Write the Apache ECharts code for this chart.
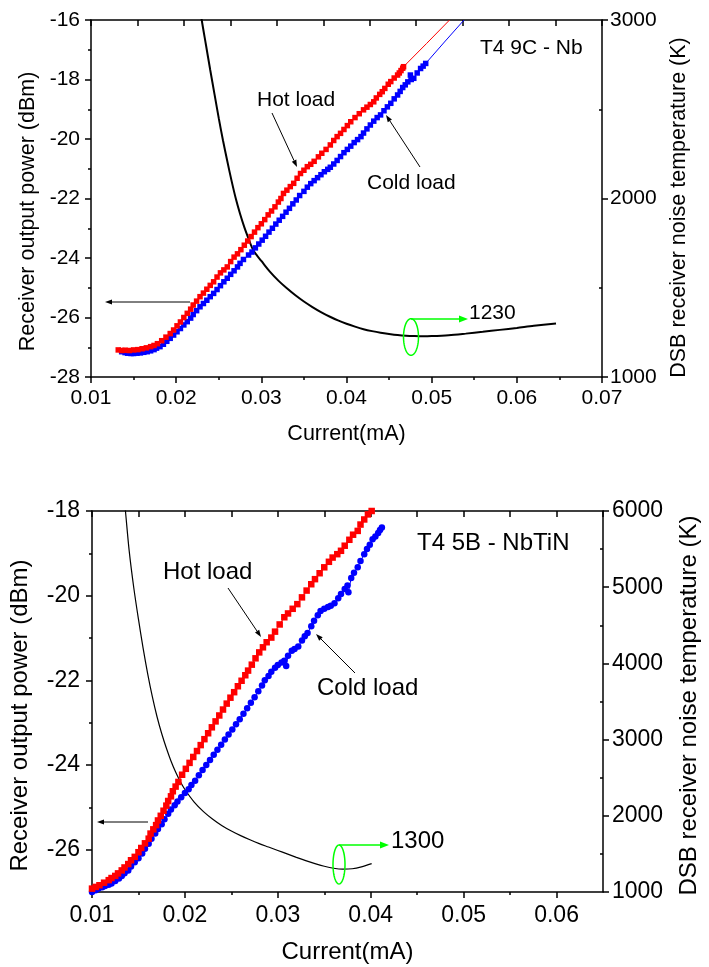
<!DOCTYPE html>
<html><head><meta charset="utf-8">
<script src="https://cdn.jsdelivr.net/npm/echarts@6/dist/echarts.min.js"></script>
<style>html,body{margin:0;padding:0;background:#fff}#c{width:709px;height:967px}</style>
</head><body><div id="c"></div>
<script>
// ---------------- DATA: top panel (T4 9C - Nb) ----------------
const topXMajor = [0.01, 0.02, 0.03, 0.04, 0.05, 0.06, 0.07];
const topXMinor = [0.015, 0.025, 0.035, 0.045, 0.055, 0.065];
const topPowerMajor = [-28, -26, -24, -22, -20, -18, -16];
const topPowerMinor = [-27, -25, -23, -21, -19, -17];
const topTempMajor = [1000, 2000, 3000];
const topTempMinor = [1500, 2500];

const hotTop = [
 [0.0132,-27.09],[0.0136,-27.11],[0.0140,-27.10],[0.0145,-27.11],[0.0150,-27.09],[0.0155,-27.08],[0.0160,-27.05],
 [0.0165,-27.02],[0.0170,-26.98],[0.0174,-26.94],[0.0178,-26.88],[0.0183,-26.78],[0.0188,-26.66],[0.0193,-26.54],
 [0.0197,-26.42],[0.0201,-26.28],[0.0205,-26.15],[0.0209,-26.00],[0.0213,-25.86],[0.0217,-25.72],[0.0220,-25.58],
 [0.0224,-25.45],[0.0228,-25.30],[0.0232,-25.18],[0.0236,-25.05],[0.0240,-24.92],[0.0244,-24.80],[0.0248,-24.64],
 [0.0252,-24.50],[0.0256,-24.40],[0.0260,-24.30],[0.0264,-24.12],[0.0268,-23.97],[0.0272,-23.86],[0.0276,-23.72],
 [0.0280,-23.57],[0.0284,-23.43],[0.0288,-23.28],[0.0292,-23.13],[0.0296,-22.98],[0.0300,-22.85],[0.0304,-22.71],
 [0.0308,-22.55],[0.0312,-22.42],[0.0316,-22.28],[0.0320,-22.12],[0.0323,-22.00],[0.0326,-21.83],[0.0330,-21.72],
 [0.0334,-21.60],[0.0338,-21.49],[0.0342,-21.32],[0.0346,-21.16],[0.0350,-21.05],[0.0354,-20.93],[0.0358,-20.85],
 [0.0362,-20.75],[0.0367,-20.60],[0.0371,-20.48],[0.0376,-20.35],[0.0381,-20.20],[0.0385,-20.05],[0.0389,-19.92],
 [0.0393,-19.81],[0.0397,-19.68],[0.0401,-19.55],[0.0405,-19.42],[0.0410,-19.28],[0.0415,-19.15],[0.0420,-19.02],
 [0.0424,-18.93],[0.0428,-18.84],[0.0432,-18.75],[0.0435,-18.62],[0.0439,-18.50],[0.0442,-18.41],[0.0445,-18.30],
 [0.0449,-18.16],[0.0452,-18.07],[0.0456,-17.95],[0.0460,-17.85],[0.0462,-17.78],[0.0464,-17.70],[0.0466,-17.62],
 [0.0467,-17.57]
];
const hotTopTail = [[0.0467,-17.57],[0.0494,-16.79],[0.0521,-16.00]];

const coldTop = [
 [0.0136,-27.15],[0.0140,-27.18],[0.0143,-27.20],[0.0147,-27.21],[0.0150,-27.21],[0.0154,-27.20],[0.0158,-27.19],
 [0.0162,-27.17],[0.0166,-27.15],[0.0170,-27.12],[0.0174,-27.08],[0.0177,-27.03],[0.0181,-26.98],[0.0185,-26.90],
 [0.0189,-26.80],[0.0193,-26.70],[0.0197,-26.59],[0.0201,-26.48],[0.0205,-26.37],[0.0209,-26.25],[0.0213,-26.14],
 [0.0217,-26.02],[0.0220,-25.90],[0.0224,-25.77],[0.0228,-25.64],[0.0232,-25.53],[0.0236,-25.42],[0.0240,-25.30],
 [0.0244,-25.19],[0.0248,-25.06],[0.0252,-24.93],[0.0256,-24.80],[0.0260,-24.68],[0.0264,-24.55],[0.0268,-24.43],
 [0.0272,-24.30],[0.0275,-24.18],[0.0279,-24.05],[0.0285,-23.90],[0.0289,-23.80],[0.0293,-23.66],[0.0297,-23.53],
 [0.0301,-23.40],[0.0305,-23.27],[0.0309,-23.13],[0.0313,-23.00],[0.0317,-22.86],[0.0321,-22.73],[0.0325,-22.60],
 [0.0329,-22.46],[0.0333,-22.33],[0.0337,-22.18],[0.0341,-22.05],[0.0345,-21.90],[0.0350,-21.76],[0.0354,-21.62],
 [0.0358,-21.50],[0.0362,-21.40],[0.0366,-21.30],[0.0370,-21.20],[0.0374,-21.10],[0.0378,-21.02],[0.0381,-20.95],
 [0.0385,-20.84],[0.0389,-20.72],[0.0393,-20.59],[0.0397,-20.46],[0.0401,-20.35],[0.0405,-20.24],[0.0409,-20.12],
 [0.0413,-20.02],[0.0417,-19.92],[0.0420,-19.80],[0.0424,-19.66],[0.0428,-19.53],[0.0432,-19.40],[0.0436,-19.28],
 [0.0440,-19.19],[0.0444,-19.05],[0.0448,-18.92],[0.0452,-18.80],[0.0456,-18.65],[0.0460,-18.52],[0.0463,-18.40],
 [0.0466,-18.27],[0.0469,-18.18],[0.0472,-18.08],[0.0475,-17.85],[0.0476,-18.00],[0.0479,-17.96],[0.0483,-17.78],
 [0.0487,-17.63],[0.0490,-17.55],[0.0493,-17.46]
];
const coldTopTail = [[0.0493,-17.46],[0.0515,-16.74],[0.0538,-16.00]];

const noiseTop = [
 [0.0228,3070],[0.0230,3000],[0.0235,2860],[0.0240,2720],[0.0245,2585],[0.0250,2450],[0.0255,2325],[0.0260,2210],
 [0.0265,2100],[0.0270,2000],[0.0275,1915],[0.0280,1840],[0.0285,1775],[0.0290,1715],[0.0295,1680],[0.0300,1650],
 [0.0310,1590],[0.0320,1540],[0.0330,1497],[0.0340,1458],[0.0350,1423],[0.0360,1392],[0.0370,1364],[0.0380,1339],
 [0.0390,1317],[0.0400,1298],[0.0410,1282],[0.0420,1268],[0.0430,1257],[0.0440,1248],[0.0450,1241],[0.0460,1235],
 [0.0470,1231],[0.0480,1229],[0.0490,1228],[0.0500,1229],[0.0520,1234],[0.0540,1243],[0.0560,1253],[0.0580,1264],
 [0.0600,1275],[0.0620,1287],[0.0646,1300]
];

// ---------------- DATA: bottom panel (T4 5B - NbTiN) ----------------
const botXMajor = [0.01, 0.02, 0.03, 0.04, 0.05, 0.06];
const botXMinor = [0.015, 0.025, 0.035, 0.045, 0.055];
const botPowerMajor = [-26, -24, -22, -20, -18];
const botPowerMinor = [-27, -25, -23, -21, -19];
const botTempMajor = [1000, 2000, 3000, 4000, 5000, 6000];
const botTempMinor = [1500, 2500, 3500, 4500, 5500];

const hotBot = [
 [0.0100,-26.92],[0.0104,-26.88],[0.0108,-26.84],[0.0113,-26.78],[0.0118,-26.72],[0.0121,-26.67],[0.0125,-26.62],
 [0.0128,-26.56],[0.0132,-26.49],[0.0135,-26.42],[0.0139,-26.34],[0.0142,-26.25],[0.0146,-26.17],[0.0150,-26.06],
 [0.0153,-25.96],[0.0157,-25.85],[0.0161,-25.74],[0.0163,-25.62],[0.0166,-25.52],[0.0169,-25.42],[0.0171,-25.31],
 [0.0174,-25.20],[0.0177,-25.08],[0.0180,-24.96],[0.0182,-24.85],[0.0185,-24.74],[0.0187,-24.62],[0.0190,-24.51],
 [0.0193,-24.40],[0.0197,-24.23],[0.0201,-24.09],[0.0205,-23.95],[0.0209,-23.81],[0.0213,-23.67],[0.0217,-23.53],
 [0.0221,-23.39],[0.0225,-23.25],[0.0229,-23.11],[0.0233,-22.97],[0.0237,-22.83],[0.0241,-22.69],[0.0245,-22.55],
 [0.0249,-22.41],[0.0253,-22.28],[0.0257,-22.14],[0.0261,-22.01],[0.0265,-21.88],[0.0268,-21.77],[0.0272,-21.63],
 [0.0276,-21.48],[0.0280,-21.34],[0.0284,-21.22],[0.0288,-21.10],[0.0293,-20.99],[0.0297,-20.85],[0.0302,-20.68],
 [0.0307,-20.51],[0.0311,-20.42],[0.0316,-20.31],[0.0321,-20.20],[0.0326,-20.04],[0.0331,-19.88],[0.0336,-19.73],
 [0.0340,-19.61],[0.0345,-19.47],[0.0350,-19.33],[0.0355,-19.20],[0.0359,-19.10],[0.0364,-19.02],[0.0368,-18.94],
 [0.0372,-18.82],[0.0377,-18.68],[0.0381,-18.56],[0.0386,-18.47],[0.0389,-18.32],[0.0393,-18.20],[0.0397,-18.08],
 [0.0401,-18.00]
];

const coldBot = [
 [0.0100,-27.00],[0.0104,-26.96],[0.0107,-26.92],[0.0111,-26.89],[0.0114,-26.86],[0.0118,-26.83],[0.0121,-26.80],
 [0.0125,-26.74],[0.0129,-26.68],[0.0132,-26.62],[0.0135,-26.56],[0.0139,-26.49],[0.0142,-26.40],[0.0146,-26.30],
 [0.0150,-26.20],[0.0154,-26.09],[0.0157,-25.98],[0.0161,-25.86],[0.0164,-25.74],[0.0168,-25.62],[0.0171,-25.51],
 [0.0175,-25.40],[0.0178,-25.28],[0.0182,-25.15],[0.0185,-25.05],[0.0189,-24.95],[0.0192,-24.86],[0.0196,-24.76],
 [0.0200,-24.66],[0.0204,-24.57],[0.0207,-24.47],[0.0211,-24.37],[0.0215,-24.24],[0.0219,-24.12],[0.0223,-24.00],
 [0.0227,-23.88],[0.0231,-23.76],[0.0235,-23.64],[0.0239,-23.52],[0.0243,-23.40],[0.0247,-23.28],[0.0251,-23.16],
 [0.0255,-23.04],[0.0259,-22.92],[0.0263,-22.79],[0.0267,-22.66],[0.0271,-22.53],[0.0275,-22.40],[0.0279,-22.26],
 [0.0283,-22.12],[0.0286,-22.00],[0.0290,-21.90],[0.0293,-21.80],[0.0297,-21.70],[0.0300,-21.64],[0.0304,-21.58],
 [0.0307,-21.54],[0.0309,-21.66],[0.0311,-21.42],[0.0315,-21.30],[0.0318,-21.26],[0.0322,-21.20],[0.0326,-21.06],
 [0.0329,-20.96],[0.0332,-20.88],[0.0336,-20.72],[0.0339,-20.59],[0.0343,-20.46],[0.0346,-20.36],[0.0350,-20.31],
 [0.0354,-20.27],[0.0357,-20.24],[0.0361,-20.18],[0.0365,-20.06],[0.0368,-19.96],[0.0372,-19.84],[0.0375,-19.76],
 [0.0376,-19.92],[0.0379,-19.58],[0.0382,-19.46],[0.0386,-19.33],[0.0389,-19.18],[0.0393,-19.02],[0.0396,-18.90],
 [0.0399,-18.80],[0.0402,-18.67],[0.0405,-18.60],[0.0408,-18.52],[0.0410,-18.45],[0.0412,-18.39]
];

const noiseBot = [
 [0.0134,6250],[0.0136,6000],[0.0140,5480],[0.0145,4990],[0.0150,4580],[0.0155,4200],[0.0160,3860],[0.0165,3560],
 [0.0170,3300],[0.0175,3080],[0.0180,2890],[0.0185,2720],[0.0190,2575],[0.0195,2450],[0.0200,2345],[0.0210,2180],
 [0.0220,2055],[0.0230,1955],[0.0240,1870],[0.0250,1800],[0.0260,1740],[0.0270,1685],[0.0280,1635],[0.0290,1590],
 [0.0300,1545],[0.0310,1500],[0.0320,1455],[0.0330,1412],[0.0340,1372],[0.0350,1338],[0.0360,1312],[0.0370,1300],
 [0.0380,1305],[0.0390,1330],[0.0401,1372]
];

// ---------------- chart ----------------
const FONT = '"Liberation Sans", Arial, Helvetica, sans-serif';
const BLACK = '#000';
const chart = echarts.init(document.getElementById('c'), null, {renderer: 'canvas'});

function txt(fs) { return {color: BLACK, fontSize: fs, fontFamily: FONT}; }

function xMain(g, min, max, majors, fs, margin, gap, nfs) {
  return {gridIndex: g, type: 'value', position: 'bottom', min: min, max: max,
    axisLine: {onZero: false, lineStyle: {color: BLACK, width: 1.5}},
    axisTick: {customValues: majors, length: 6, lineStyle: {color: BLACK, width: 1.5}},
    axisLabel: Object.assign({customValues: majors, margin: margin, formatter: v => v.toFixed(2)}, txt(fs)),
    splitLine: {show: false},
    name: 'Current(mA)', nameLocation: 'middle', nameGap: gap, nameTextStyle: txt(nfs)};
}
function xMinor(g, min, max, minors) {
  return {gridIndex: g, type: 'value', position: 'bottom', min: min, max: max,
    axisLine: {show: false, onZero: false},
    axisTick: {customValues: minors, length: 3, lineStyle: {color: BLACK, width: 1.5}},
    axisLabel: {show: false}, splitLine: {show: false}};
}
function xTopFrame(g, min, max, interval) {
  return {gridIndex: g, type: 'value', position: 'top', min: min, max: max, interval: interval,
    axisLine: {onZero: false, lineStyle: {color: BLACK, width: 1.5}},
    axisTick: {inside: true, length: 6, lineStyle: {color: BLACK, width: 1.5}},
    axisLabel: {show: false}, splitLine: {show: false}};
}
function yMain(g, pos, min, max, majors, fs, margin, name, gap, nfs, pad) {
  return {gridIndex: g, type: 'value', position: pos, min: min, max: max,
    axisLine: {onZero: false, lineStyle: {color: BLACK, width: 1.5}},
    axisTick: {customValues: majors, length: 6, lineStyle: {color: BLACK, width: 1.5}},
    axisLabel: Object.assign({customValues: majors, margin: margin, formatter: v => String(Math.round(v))}, txt(fs)),
    splitLine: {show: false},
    name: name, nameLocation: 'middle', nameRotate: 90, nameGap: gap,
    nameTextStyle: Object.assign({padding: pad}, txt(nfs))};
}
function yMinor(g, pos, min, max, minors, inside) {
  return {gridIndex: g, type: 'value', position: pos, min: min, max: max,
    axisLine: {show: false, onZero: false},
    axisTick: {customValues: minors, inside: !!inside, length: 3, lineStyle: {color: BLACK, width: 1.5}},
    axisLabel: {show: false}, splitLine: {show: false}};
}

const TOPFS = 21, BOTFS = 23;

function arrow(x1, y1, x2, y2, color, lw, hl, hw) {
  const dx = x2 - x1, dy = y2 - y1, L = Math.sqrt(dx*dx + dy*dy);
  const ux = dx / L, uy = dy / L, bx = x2 - ux*hl, by = y2 - uy*hl;
  return [
    {type: 'line', shape: {x1: x1, y1: y1, x2: bx, y2: by}, style: {stroke: color, lineWidth: lw}, silent: true, z: 100},
    {type: 'polygon', shape: {points: [[x2, y2], [bx - uy*hw, by + ux*hw], [bx + uy*hw, by - ux*hw]]},
     style: {fill: color}, silent: true, z: 100}
  ];
}
function ellipse(cx, cy, rx, ry, color, lw) {
  const pts = [];
  for (let i = 0; i < 60; i++) { const a = i / 60 * Math.PI * 2; pts.push([cx + rx*Math.cos(a), cy + ry*Math.sin(a)]); }
  return {type: 'polygon', shape: {points: pts}, style: {fill: null, stroke: color, lineWidth: lw}, silent: true, z: 100};
}
function label(x, y, s, fs) {
  return {type: 'text', x: x, y: y, style: {text: s, fill: BLACK, font: fs + 'px ' + FONT, textAlign: 'left', textVerticalAlign: 'middle'}, silent: true, z: 100};
}

const GREEN = '#00ff00';
const graphics = [].concat(
  [label(480, 48, 'T4 9C - Nb', TOPFS), label(257, 100, 'Hot load', TOPFS), label(367, 183, 'Cold load', TOPFS),
   label(469, 313, '1230', TOPFS)],
  arrow(272, 113, 297, 167, BLACK, 1, 7, 2.5),
  arrow(420, 167, 386, 115, BLACK, 1, 7, 2.5),
  arrow(190, 302, 105, 302, BLACK, 1, 7, 2.5),
  [ellipse(411, 337, 7.5, 18.3, GREEN, 1.5)],
  arrow(411, 319, 468, 319, GREEN, 1.5, 9, 3.5),
  [label(417, 543, 'T4 5B - NbTiN', 24), label(163, 572, 'Hot load', 24), label(317, 688, 'Cold load', 24),
   label(391, 841, '1300', 24)],
  arrow(228, 588, 261, 637, BLACK, 1, 7, 2.5),
  arrow(355, 673, 316, 634, BLACK, 1, 7, 2.5),
  arrow(148, 822, 97, 822, BLACK, 1, 7, 2.5),
  [ellipse(339, 864.5, 6, 19.5, GREEN, 1.5)],
  arrow(339, 845, 389, 845, GREEN, 1.5, 9, 3.5)
);

function scatterLine(name, data, xi, yi, color, symbol, size) {
  return {name: name, type: 'line', xAxisIndex: xi, yAxisIndex: yi, data: data, symbol: symbol, symbolSize: size,
    showAllSymbol: true, itemStyle: {color: color, borderWidth: 0}, lineStyle: {color: color, width: 1}, clip: true};
}
function plainLine(data, xi, yi, color, w, smooth) {
  return {type: 'line', xAxisIndex: xi, yAxisIndex: yi, data: data, symbol: 'none', smooth: smooth || false,
    lineStyle: {color: color, width: w}, clip: true};
}

const option = {
  animation: false,
  backgroundColor: '#fff',
  grid: [
    {left: 91, top: 20, width: 511, height: 357},
    {left: 90, top: 511, width: 513, height: 381}
  ],
  xAxis: [
    xMain(0, 0.01, 0.07, topXMajor, TOPFS, 11, 46, 21.5),
    xMinor(0, 0.01, 0.07, topXMinor),
    xTopFrame(0, 0, 11, 1),
    xMain(1, 0.01, 0.065, botXMajor, BOTFS, 12, 48, 24),
    xMinor(1, 0.01, 0.065, botXMinor),
    xTopFrame(1, 0.01, 0.065, 0.005)
  ],
  yAxis: [
    yMain(0, 'left', -28, -16, topPowerMajor, TOPFS, 11, 'Receiver output power (dBm)', 52, 21.5, [0, 26, 0, 0]),
    yMinor(0, 'left', -28, -16, topPowerMinor, false),
    yMain(0, 'right', 1000, 3000, topTempMajor, TOPFS, 8, 'DSB receiver noise temperature (K)', 66, 21.5, [0, 18, 0, 0]),
    yMinor(0, 'right', 1000, 3000, topTempMinor, true),
    yMain(1, 'left', -27, -18, botPowerMajor, BOTFS, 12, 'Receiver output power (dBm)', 60, 24, [0, 28, 0, 0]),
    yMinor(1, 'left', -27, -18, botPowerMinor, false),
    yMain(1, 'right', 1000, 6000, botTempMajor, BOTFS, 9, 'DSB receiver noise temperature (K)', 74, 24, [0, 8, 0, 0]),
    yMinor(1, 'right', 1000, 6000, botTempMinor, true)
  ],
  series: [
    scatterLine('Cold load', coldTop, 0, 0, '#0000ff', 'rect', 5.5),
    plainLine(coldTopTail, 0, 0, '#0000ff', 1),
    scatterLine('Hot load', hotTop, 0, 0, '#ff0000', 'rect', 5.5),
    plainLine(hotTopTail, 0, 0, '#ff0000', 1),
    plainLine(noiseTop, 0, 2, BLACK, 2, 0.3),
    scatterLine('Cold load', coldBot, 3, 4, '#0000ff', 'circle', 6.5),
    scatterLine('Hot load', hotBot, 3, 4, '#ff0000', 'rect', 6.5),
    plainLine(noiseBot, 3, 6, BLACK, 1.2, 0.3)
  ],
  graphic: graphics
};
chart.setOption(option);
</script>
</body></html>
